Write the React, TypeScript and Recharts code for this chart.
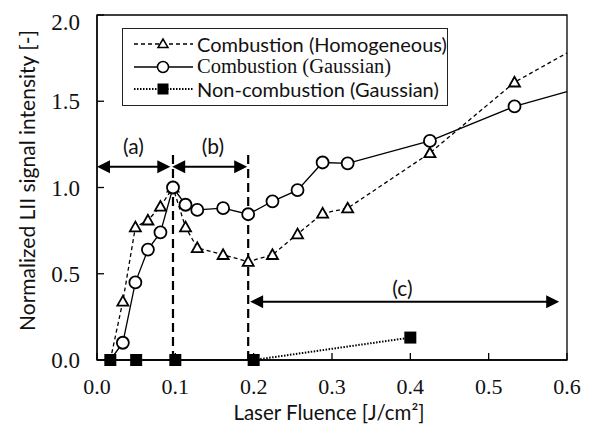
import React from 'react'
import {
  LineChart,
  Line,
  XAxis,
  YAxis,
  ReferenceLine,
  ReferenceDot,
  ReferenceArea,
  Legend,
  Label,
  Text
} from 'recharts'

// fluence [J/cm2] of the combustion runs (last entry = where the lines leave the frame)
const fluenceComb = [0.017, 0.033, 0.049, 0.065, 0.081, 0.097, 0.113, 0.128, 0.161, 0.193, 0.224, 0.256, 0.288, 0.32, 0.425, 0.533, 0.6]
const homogeneous = [0, 0.34, 0.77, 0.81, 0.89, 1.0, 0.77, 0.65, 0.61, 0.57, 0.61, 0.73, 0.85, 0.88, 1.2, 1.61, 1.78]
const gaussian = [0, 0.1, 0.45, 0.64, 0.74, 1.0, 0.9, 0.87, 0.88, 0.845, 0.92, 0.985, 1.145, 1.14, 1.27, 1.47, 1.556]

const fluenceNonComb = [0.017, 0.05, 0.1, 0.2, 0.4]
const nonCombustion = [0, 0, 0, 0, 0.13]

const xTicks = [0, 0.1, 0.2, 0.3, 0.4, 0.5, 0.6]
const yTicks = [0, 0.5, 1, 1.5, 2]

// regime boundaries and labels
const boundaries = [0.097, 0.193]
const regions = [
  { label: '(a)', from: 0, to: 0.0936, y: 1.12, labelX: 0.0465, labelY: 1.235 },
  { label: '(b)', from: 0.096, to: 0.1917, y: 1.12, labelX: 0.148, labelY: 1.235 },
  { label: '(c)', from: 0.1955, to: 0.59, y: 0.338, labelX: 0.39, labelY: 0.415 }
]

const homogeneousData = fluenceComb.map((x, i) => ({ x, y: homogeneous[i] }))
const gaussianData = fluenceComb.map((x, i) => ({ x, y: gaussian[i] }))
const nonCombData = fluenceNonComb.map((x, i) => ({ x, y: nonCombustion[i] }))

const SANS = 'Lato, "Open Sans", sans-serif'
const SERIF = '"Liberation Serif", "Times New Roman", serif'

const hidden = (p: any) => p.payload.y === 0 || p.payload.x >= 0.6

const TriangleDot = (p: any) => {
  if (hidden(p)) return <g key={p.index} />
  const { cx, cy } = p
  return (
    <polygon
      key={p.index}
      points={`${cx},${cy - 5.5} ${cx - 5.5},${cy + 4.2} ${cx + 5.5},${cy + 4.2}`}
      fill="#fff"
      stroke="#000"
      strokeWidth={1.8}
    />
  )
}

const CircleDot = (p: any) => {
  if (hidden(p)) return <g key={p.index} />
  return <circle key={p.index} cx={p.cx} cy={p.cy} r={6} fill="#fff" stroke="#000" strokeWidth={1.8} />
}

const SquareDot = (p: any) => (
  <rect key={p.index} x={p.cx - 6} y={p.cy - 6} width={12} height={12} fill="#000" />
)

// top label sits just inside the frame, like in the original
const YTick = (p: any) => (
  <Text
    x={p.x}
    y={p.y + (p.payload.value === 2 ? 7 : 0)}
    textAnchor="end"
    verticalAnchor="middle"
    fontFamily={SERIF}
    fontSize={23}
    fill="#111"
  >
    {p.payload.value.toFixed(1)}
  </Text>
)

const ArrowShape = (props: any) => {
  const { x1, y1, x2, y2 } = props
  const h = 13
  const w = 6.5
  return (
    <g>
      <line x1={x1 + h - 2} y1={y1} x2={x2 - h + 2} y2={y2} stroke="#000" strokeWidth={2} />
      <polygon points={`${x1},${y1} ${x1 + h},${y1 - w} ${x1 + h},${y1 + w}`} fill="#000" />
      <polygon points={`${x2},${y2} ${x2 - h},${y2 - w} ${x2 - h},${y2 + w}`} fill="#000" />
    </g>
  )
}

const legendItems = [
  { name: 'Combustion (Homogeneous)', dash: '4 3', marker: 'triangle', font: SANS, size: 20 },
  { name: 'Combustion (Gaussian)', dash: undefined, marker: 'circle', font: SERIF, size: 20.5 },
  { name: 'Non-combustion (Gaussian)', dash: '1.5 1.5', marker: 'square', font: SANS, size: 20 }
]

const LegendBox = () => (
  <div
    style={{
      border: '1.3px solid #222',
      background: '#fff',
      width: 326,
      height: 78,
      paddingTop: 4,
      boxSizing: 'border-box'
    }}
  >
    {legendItems.map(item => (
      <div key={item.name} style={{ display: 'flex', alignItems: 'center', height: 22.5 }}>
        <svg width={73} height={16} style={{ flex: 'none' }}>
          <line
            x1={11}
            y1={8}
            x2={70}
            y2={8}
            stroke="#000"
            strokeWidth={item.marker === 'square' ? 1.8 : 1.3}
            strokeDasharray={item.dash}
          />
          {item.marker === 'triangle' && (
            <polygon points="40,3 35,11.5 45,11.5" fill="#fff" stroke="#000" strokeWidth={1.5} />
          )}
          {item.marker === 'circle' && <circle cx={40} cy={8} r={5.5} fill="#fff" stroke="#000" strokeWidth={1.5} />}
          {item.marker === 'square' && <rect x={34.5} y={2.5} width={11} height={11} fill="#000" />}
        </svg>
        <span style={{ fontFamily: item.font, fontSize: item.size, color: '#111', marginLeft: 1, whiteSpace: 'nowrap' }}>
          {item.name}
        </span>
      </div>
    ))}
  </div>
)

export default function App() {
  return (
    <div style={{ position: 'absolute', left: 0, top: 0, background: '#fff' }}>
      <LineChart width={589} height={432} margin={{ top: 15, right: 22, bottom: 0, left: 0 }}>
        <XAxis
          dataKey="x"
          type="number"
          domain={[0, 0.6]}
          ticks={xTicks}
          height={72}
          tickSize={-7}
          tickMargin={25}
          tickFormatter={(v: number) => v.toFixed(1)}
          tick={{ fontFamily: SERIF, fontSize: 22, fill: '#111' }}
          axisLine={{ stroke: '#000', strokeWidth: 1.3 }}
          tickLine={{ stroke: '#000', strokeWidth: 1.3 }}
        >
          <Label
            content={(p: any) => (
              <text
                x={p.viewBox.x + p.viewBox.width / 2 - 3}
                y={p.viewBox.y + 60}
                textAnchor="middle"
                fontFamily={SANS}
                fontSize={20.5}
                fill="#111"
              >
                Laser Fluence [J/cm²]
              </text>
            )}
          />
        </XAxis>
        <YAxis
          type="number"
          domain={[0, 2]}
          ticks={yTicks}
          width={97}
          tickSize={-7}
          tickMargin={24}
          tick={YTick}
          axisLine={{ stroke: '#000', strokeWidth: 1.3 }}
          tickLine={{ stroke: '#000', strokeWidth: 1.3 }}
        >
          <Label
            content={(p: any) => (
              <text
                transform={`translate(35, ${p.viewBox.y + p.viewBox.height / 2 - 7}) rotate(-90)`}
                textAnchor="middle"
                fontFamily={SANS}
                fontSize={21}
                fill="#111"
              >
                Normalized LII signal intensity [-]
              </text>
            )}
          />
        </YAxis>

        <ReferenceArea x1={0} x2={0.6} y1={0} y2={2} fill="none" stroke="#000" strokeWidth={1.3} fillOpacity={0} />

        {boundaries.map(b => (
          <ReferenceLine
            key={b}
            segment={[{ x: b, y: 0 }, { x: b, y: 1.21 }]}
            stroke="#000"
            strokeWidth={2.2}
            strokeDasharray="9 5"
          />
        ))}
        {regions.map(r => (
          <ReferenceLine
            key={r.label}
            segment={[{ x: r.from, y: r.y }, { x: r.to, y: r.y }]}
            shape={ArrowShape}
          />
        ))}
        {regions.map(r => (
          <ReferenceDot
            key={'l' + r.label}
            x={r.labelX}
            y={r.labelY}
            r={0}
            fill="none"
            stroke="none"
            label={{ value: r.label, position: 'center', fontFamily: SANS, fontSize: 21, fill: '#111' }}
          />
        ))}

        <Line
          data={homogeneousData}
          dataKey="y"
          name="Combustion (Homogeneous)"
          type="linear"
          stroke="#000"
          strokeWidth={1.3}
          strokeDasharray="4 3"
          dot={TriangleDot}
          activeDot={false}
          isAnimationActive={false}
        />
        <Line
          data={gaussianData}
          dataKey="y"
          name="Combustion (Gaussian)"
          type="linear"
          stroke="#000"
          strokeWidth={1.3}
          dot={CircleDot}
          activeDot={false}
          isAnimationActive={false}
        />
        <Line
          data={nonCombData}
          dataKey="y"
          name="Non-combustion (Gaussian)"
          type="linear"
          stroke="#000"
          strokeWidth={2}
          strokeDasharray="1.5 1.5"
          dot={SquareDot}
          activeDot={false}
          isAnimationActive={false}
        />

        <Legend
          layout="vertical"
          align="center"
          verticalAlign="middle"
          content={<LegendBox />}
          wrapperStyle={{ left: 122, top: 28, width: 326, height: 78 }}
        />
      </LineChart>
    </div>
  )
}
